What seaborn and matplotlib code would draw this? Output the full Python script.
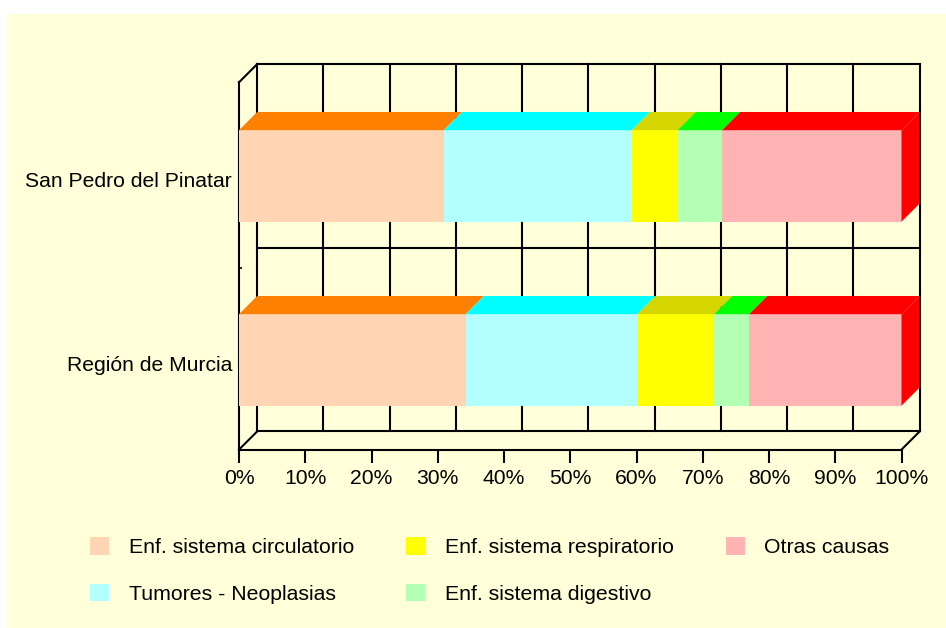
import matplotlib
matplotlib.use("Agg")
import matplotlib.pyplot as plt
from matplotlib.patches import Polygon, Rectangle
from matplotlib.transforms import ScaledTranslation
import numpy as np
import seaborn as sns

W, H = 946, 628
categories = ["San Pedro del Pinatar", "Región de Murcia"]
series_names = ["Enf. sistema circulatorio", "Tumores - Neoplasias", "Enf. sistema respiratorio",
                "Enf. sistema digestivo", "Otras causas"]
circulatorio = [30.9, 34.2]
tumores = [28.4, 25.9]
respiratorio = [6.9, 11.6]
digestivo = [6.7, 5.3]
otras = [27.1, 23.0]
series_values = [circulatorio, tumores, respiratorio, digestivo, otras]
front_colors = ["#FFD5B3", "#B3FFFF", "#FFFF00", "#B3FFB3", "#FFB3B3"]
top_colors = ["#FF8000", "#00FFFF", "#D5D500", "#00FF00", "#FF0000"]
x_ticks = list(range(0, 101, 10))
x_labels = [f"{v}%" for v in x_ticks]

sns.set_theme(style="white")
plt.rcParams["font.family"] = ["Liberation Sans", "DejaVu Sans"]
FS = 15.2
LEG_FS = 15.35
LW = 1.5

fig = plt.figure(figsize=(W / 100, H / 100), dpi=100, facecolor="white")
fig.add_artist(Rectangle((7 / W, 0), (W - 7) / W, (H - 13.5) / H, transform=fig.transFigure,
                         facecolor="#FFFFD9", edgecolor="none", zorder=-5))
L, R, T, B = 239.0, 901.5, 82.3, 449.6
ax = fig.add_axes([L / W, 1 - B / H, (R - L) / W, (B - T) / H])
ax.patch.set_alpha(0)

# 2D front faces
left = np.zeros(2)
for name, vals, col in zip(series_names, series_values, front_colors):
    sns.barplot(x=vals, y=categories, orient="h", left=left, color=col, saturation=1, width=0.497,
                linewidth=0, label=name, ax=ax, legend=False, zorder=3)
    left = left + np.array(vals)

ax.set_xlim(0, 100)
px_per_cat = 184.0
y_top = -0.5 - 1.6 / px_per_cat
y_bot = y_top + (B - T) / px_per_cat
ax.set_ylim(y_bot, y_top)
dx = 18.2 * 100 / (R - L)
dy = 18.2 / px_per_cat
half = 0.497 / 2

# back plane and walls
line = dict(color="black", lw=LW, clip_on=False, zorder=1, solid_capstyle="projecting")
for t in x_ticks:
    ax.plot([t + dx, t + dx], [y_top - dy, y_bot - dy], **line)
for yy in [y_top, (y_top + y_bot) / 2, y_bot]:
    ax.plot([dx, 100 + dx], [yy - dy, yy - dy], **line)
for x0 in [0, 100]:
    ax.plot([x0, x0 + dx], [y_bot, y_bot - dy], **line)
ax.plot([0, dx], [y_top, y_top - dy], **line)

# 3D faces
for i in range(len(categories)):
    start = 0.0
    for vals, col in zip(series_values, top_colors):
        end = start + vals[i]
        ax.add_patch(Polygon([(start, i - half), (end, i - half), (end + dx, i - half - dy), (start + dx, i - half - dy)],
                             facecolor=col, edgecolor="none", clip_on=False, zorder=4))
        start = end
    ax.add_patch(Polygon([(100, i - half), (100 + dx, i - half - dy), (100 + dx, i + half - dy), (100, i + half)],
                         facecolor=top_colors[-1], edgecolor="none", clip_on=False, zorder=4))

for s in ["top", "right"]:
    ax.spines[s].set_visible(False)
for s in ["left", "bottom"]:
    ax.spines[s].set_color("black")
    ax.spines[s].set_linewidth(LW)
    ax.spines[s].set_zorder(2)
ax.set_xticks(x_ticks, x_labels)
ax.tick_params(axis="x", length=9.4, width=LW, color="black", labelsize=FS, pad=4.5, labelcolor="black", bottom=True)
ax.tick_params(axis="y", length=0, labelsize=FS, pad=5, labelcolor="black")
ax.set_yticks([0.5], minor=True)
ax.tick_params(axis="y", which="minor", left=True, direction="in", length=2.2, width=1.2, color="black")
shift = ScaledTranslation(0, -3.5 / 100, fig.dpi_scale_trans)
for lab in ax.get_yticklabels():
    lab.set_transform(lab.get_transform() + shift)

hs, ls = ax.get_legend_handles_labels()
fig.legend(hs, ls, ncol=3, loc="upper left", bbox_to_anchor=(90 / W, 1 - 537 / H), frameon=False,
           fontsize=LEG_FS, borderpad=0, borderaxespad=0, handlelength=0.89, handleheight=0.89,
           handletextpad=0.92, columnspacing=2.45, labelspacing=1.25, labelcolor="black")
fig.savefig("out.png", dpi=100, facecolor=fig.get_facecolor())
